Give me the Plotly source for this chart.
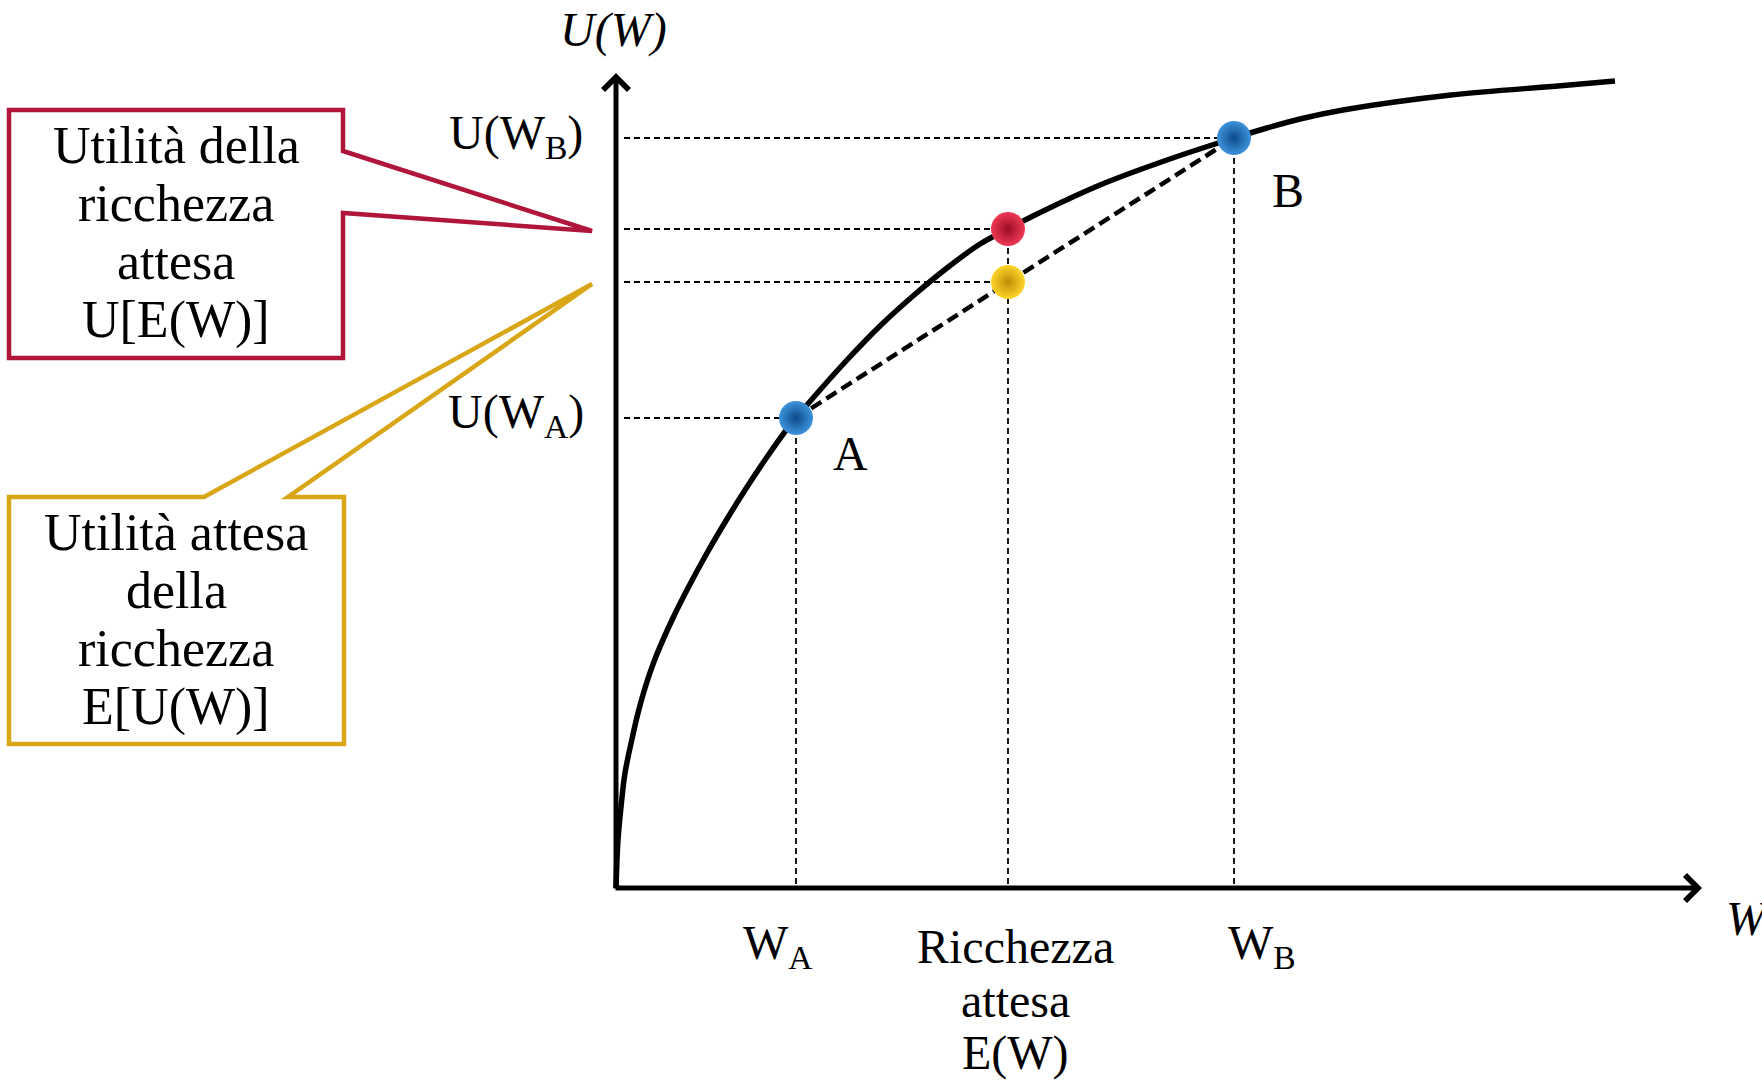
import plotly.graph_objects as go

# ---------------- data (arbitrary wealth / utility units) ----------------
curve_w = [0, 2, 5, 9, 16, 22, 29, 39, 56, 72, 91, 111, 131, 151, 171, 180, 197, 231, 264, 297,
           331, 364, 392, 417, 484, 551, 618, 651, 684, 727, 835, 942, 999]
curve_u = [0, 48, 81, 115, 149, 175, 200, 229, 268, 300, 335, 369, 401, 431, 459, 470, 490, 528, 562, 592,
           620, 644, 659, 672, 703, 728, 750, 760, 769, 778, 793, 802, 807]

w_A, u_A = 180, 470          # point A
w_B, u_B = 618, 750          # point B
w_E = 392                    # expected wealth E(W)
u_of_E = 659                 # U[E(W)]  (red)
E_of_u = 606                 # E[U(W)]  (yellow)

x_axis_end = 1086
y_axis_end = 815

x_tick_labels = ["W<sub>A</sub>", "Ricchezza", "attesa", "E(W)", "W<sub>B</sub>"]
y_tick_labels = ["U(W<sub>B</sub>)", "U(W<sub>A</sub>)"]
red_box_lines = ["Utilità della", "ricchezza", "attesa", "U[E(W)]"]
yellow_box_lines = ["Utilità attesa", "della", "ricchezza", "E[U(W)]"]

# ---------------- helpers: figure pixel -> data coords ----------------
OX, OY = 616, 888
def dx(px):
    return px - OX
def dy(py):
    return OY - py

SERIF = "Liberation Serif, Times New Roman, serif"
FS = 48
BASE = 17  # baseline-to-middle offset at FS

fig = go.Figure()

# dashed guide lines
gx, gy = [], []
for (w, u) in [(w_B, u_B), (w_E, u_of_E), (w_E, E_of_u), (w_A, u_A)]:
    gx += [8, w, None]
    gy += [u, u, None]
for (w, u) in [(w_A, u_A), (w_E, u_of_E), (w_B, u_B)]:
    gx += [w, w, None]
    gy += [4, u, None]
fig.add_trace(go.Scatter(x=gx, y=gy, mode="lines",
                         line=dict(color="black", width=1.8, dash="6px,4px"),
                         hoverinfo="skip"))

# chord A-B (expected utility line)
fig.add_trace(go.Scatter(x=[w_A, w_B], y=[u_A, u_B], mode="lines",
                         line=dict(color="black", width=4.5, dash="12px,6px"),
                         hoverinfo="skip"))

# utility curve
fig.add_trace(go.Scatter(x=curve_w, y=curve_u, mode="lines",
                         line=dict(color="black", width=5.5, shape="spline", smoothing=1.0),
                         hoverinfo="skip"))

# markers
def ball(x, y, c0, c1):
    fig.add_trace(go.Scatter(x=[x], y=[y], mode="markers",
                             marker=dict(size=34, color=c0, line=dict(width=0),
                                         gradient=dict(type="radial", color=c1)),
                             hoverinfo="skip"))

ball(w_E, E_of_u, "#ffd62a", "#c08a06")
ball(w_E, u_of_E, "#ee3a55", "#9c0b27")
ball(w_A, u_A, "#3f93dc", "#0a4a88")
ball(w_B, u_B, "#3f93dc", "#0a4a88")

annotations = []
# axes with arrowheads
annotations.append(dict(x=x_axis_end, y=0, ax=-2, ay=0, xref="x", yref="y", axref="x", ayref="y",
                        text="", showarrow=True, arrowhead=4, arrowwidth=5, arrowsize=1,
                        arrowcolor="black", standoff=0))
annotations.append(dict(x=0, y=y_axis_end, ax=0, ay=-2, xref="x", yref="y", axref="x", ayref="y",
                        text="", showarrow=True, arrowhead=4, arrowwidth=5, arrowsize=1,
                        arrowcolor="black", standoff=0))

def label(text, px, baseline, xanchor="center", italic=False, size=FS):
    t = f"<i>{text}</i>" if italic else text
    annotations.append(dict(x=dx(px), y=dy(baseline - BASE * size / FS), xref="x", yref="y",
                            text=t, showarrow=False, xanchor=xanchor, yanchor="middle",
                            font=dict(family=SERIF, size=size, color="black")))

# axis titles
label("U(W)", 613, 47, italic=True)
label("W", 1724, 935, xanchor="left", italic=True)

# y labels
label(y_tick_labels[0], 585, 153, xanchor="right")
label(y_tick_labels[1], 586, 432, xanchor="right")

# point labels
label("A", 850, 470)
label("B", 1288, 207)

# x labels
label(x_tick_labels[0], 778, 963)
label(x_tick_labels[1], 1015, 963)
label(x_tick_labels[2], 1015, 1017)
label(x_tick_labels[3], 1015, 1070)
label(x_tick_labels[4], 1262, 963)

# callout texts
BOX_FS = 52
for i, t in enumerate(red_box_lines):
    label(t, 176, 164 + 58 * i, size=BOX_FS)
for i, t in enumerate(yellow_box_lines):
    label(t, 176, 551 + 58 * i, size=BOX_FS)

# callout shapes
def path(pts):
    return "M " + " L ".join(f"{dx(a)},{dy(b)}" for a, b in pts) + " Z"

red_pts = [(9, 110), (343, 110), (343, 151), (592, 231), (343, 213), (343, 358), (9, 358)]
yel_pts = [(9, 497), (204, 497), (592, 284), (288, 497), (344, 497), (344, 744), (9, 744)]

shapes = [
    dict(type="path", path=path(red_pts), xref="x", yref="y",
         line=dict(color="#B0163A", width=4.5), fillcolor="rgba(0,0,0,0)", layer="below"),
    dict(type="path", path=path(yel_pts), xref="x", yref="y",
         line=dict(color="#D8A616", width=4.5), fillcolor="rgba(0,0,0,0)", layer="below"),
]

fig.update_layout(
    width=1762, height=1082,
    margin=dict(l=0, r=0, t=0, b=0),
    paper_bgcolor="white", plot_bgcolor="white",
    showlegend=False,
    xaxis=dict(visible=False, range=[dx(0), dx(1762)], fixedrange=True),
    yaxis=dict(visible=False, range=[dy(1082), dy(0)], fixedrange=True),
    annotations=annotations,
    shapes=shapes,
)

fig.write_html("out.html", config={"displayModeBar": False})
